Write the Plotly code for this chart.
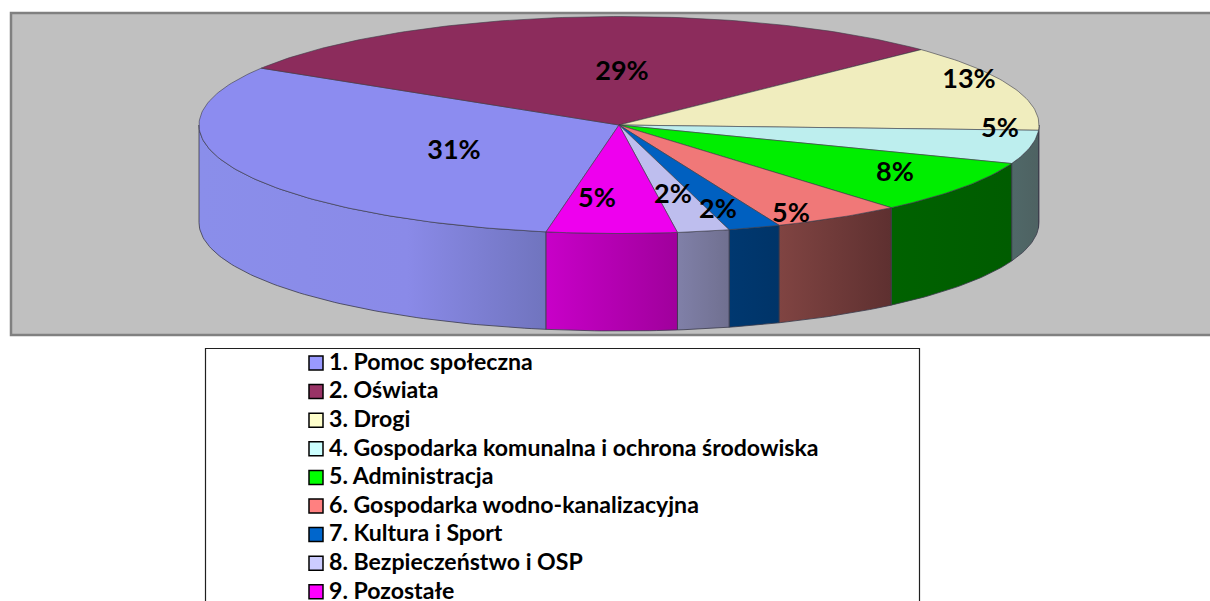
import math
import plotly.graph_objects as go

# ---- data -------------------------------------------------------------
categories = ["1. Pomoc społeczna", "2. Oświata", "3. Drogi",
              "4. Gospodarka komunalna i ochrona środowiska", "5. Administracja",
              "6. Gospodarka wodno-kanalizacyjna", "7. Kultura i Sport",
              "8. Bezpieczeństwo i OSP", "9. Pozostałe"]
shares = [31, 29, 13, 5, 8, 5, 2, 2, 5]

# ---- styles -----------------------------------------------------------
top_colors = ["#8C8CF0", "#8C2C5C", "#F0EDBE", "#BDEEEE", "#00EE00",
              "#F07878", "#0060C0", "#BEBEEE", "#EE00EE"]
swatch_colors = ["#9999FF", "#993366", "#FFFFCC", "#CCFFFF", "#00FF00",
                 "#FF8080", "#0066CC", "#CCCCFF", "#FF00FF"]
wall_gradients = [
    [(0, "#8A8EEA"), (0.6, "#8A8AE8"), (1, "#7074BE")],
    [(0, "#701F4A"), (1, "#701F4A")],
    [(0, "#606050"), (1, "#606050")],
    [(0, "#506868"), (1, "#4E6262")],
    [(0, "#006200"), (1, "#005C00")],
    [(0, "#804442"), (1, "#5E3030")],
    [(0, "#003870"), (1, "#003468")],
    [(0, "#8080A8"), (1, "#707090")],
    [(0, "#C800C8"), (1, "#A0009C")],
]
CX, CY, RX, RY, DEPTH = 619, 125, 420, 108.5, 97.5
START_ANGLE = 190
EDGE = "#3A3A4A"
label_x = [454, 622, 969, 1000, 895, 791, 718, 673, 597]
label_y = [152, 73, 81, 130, 174, 215, 211, 196, 200]
SW_X, TXT_X, LEG_Y0, LEG_DY = 316, 329, 363, 28.6


def rim(a_deg, drop=0):
    a = math.radians(a_deg)
    return CX + RX * math.sin(a), CY - RY * math.cos(a) + drop


def arc(a0, a1, drop=0):
    n = max(2, int(abs(a1 - a0)) + 1)
    pts = [rim(a0 + (a1 - a0) * i / n, drop) for i in range(n + 1)]
    return [p[0] for p in pts], [p[1] for p in pts]


fig = go.Figure()
total = sum(shares)
angle = START_ANGLE
bounds = []
for s in shares:
    bounds.append((angle, angle + 360 * s / total))
    angle += 360 * s / total

# side walls: only the part of each slice facing the viewer (90..270 deg, modulo 360)
for (a0, a1), grad, cat in zip(bounds, wall_gradients, categories):
    for shift in (0, -360):
        lo, hi = max(a0 + shift, 90), min(a1 + shift, 270)
        if hi <= lo:
            continue
        xt, yt = arc(lo, hi)
        xb, yb = arc(hi, lo, DEPTH)
        fig.add_trace(go.Scatter(
            x=xt + xb + xt[:1], y=yt + yb + yt[:1], mode="lines", fill="toself",
            fillgradient=dict(type="horizontal", colorscale=[list(g) for g in grad]),
            line=dict(color=EDGE, width=0.8), hoverinfo="skip", showlegend=False))

# top faces
for (a0, a1), col, cat, s in zip(bounds, top_colors, categories, shares):
    xa, ya = arc(a0, a1)
    fig.add_trace(go.Scatter(
        x=[CX] + xa + [CX], y=[CY] + ya + [CY], mode="lines", fill="toself",
        fillcolor=col, line=dict(color="rgba(60,60,70,0.75)", width=0.8),
        name=cat, text=f"{s}%", hoverinfo="name+text", showlegend=False))

# percentage labels
fig.add_trace(go.Scatter(
    x=label_x, y=label_y, mode="text", text=[f"{s}%" for s in shares],
    textposition="middle center", cliponaxis=False,
    textfont=dict(family="Lato", size=27, color="black", weight="bold"),
    hoverinfo="skip", showlegend=False))

# legend rows
row_y = [LEG_Y0 + i * LEG_DY for i in range(len(categories))]
fig.add_trace(go.Scatter(
    x=[SW_X] * len(categories), y=row_y, mode="markers",
    marker=dict(symbol="square", size=14, color=swatch_colors,
                line=dict(color="black", width=1.5)),
    cliponaxis=False, hoverinfo="skip", showlegend=False))
fig.add_trace(go.Scatter(
    x=[TXT_X] * len(categories), y=[y + 1 for y in row_y], mode="text",
    text=categories, textposition="middle right",
    textfont=dict(family="Lato", size=23.1, color="black", weight="bold"),
    cliponaxis=False, hoverinfo="skip", showlegend=False))

fig.update_layout(
    width=1210, height=601, autosize=False,
    margin=dict(l=0, r=0, t=0, b=0), paper_bgcolor="white", plot_bgcolor="white",
    showlegend=False,
    xaxis=dict(range=[0, 1210], visible=False, fixedrange=True),
    yaxis=dict(range=[601, 0], visible=False, fixedrange=True),
    shapes=[
        dict(type="rect", layer="below", x0=11, x1=1215, y0=13, y1=335,
             fillcolor="#C0C0C0", line=dict(color="#808080", width=2.5)),
        dict(type="rect", layer="below", x0=205.5, x1=919.5, y0=348.5, y1=620,
             fillcolor="white", line=dict(color="#202020", width=1.2)),
    ],
)
fig.write_html("out.html", config={"displayModeBar": False},
               post_script="document.body.style.margin='0';document.body.style.overflow='hidden';")
